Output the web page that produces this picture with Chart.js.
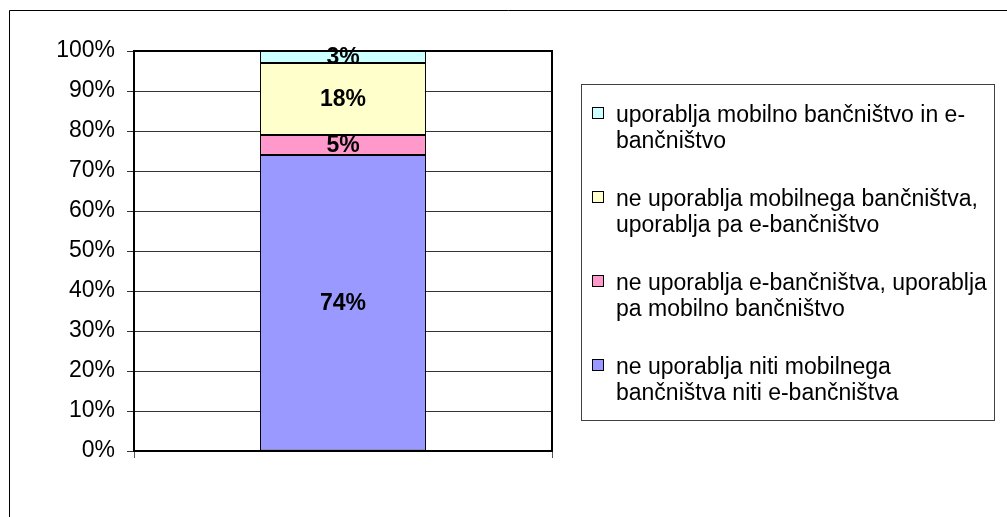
<!DOCTYPE html>
<html>
<head>
<meta charset="utf-8">
<script src="https://cdn.jsdelivr.net/npm/chart.js@4.4.1/dist/chart.umd.min.js"></script>
<style>
  html, body { margin: 0; padding: 0; background: #fff; }
  #c { display: block; }
</style>
</head>
<body>
<canvas id="c" width="1007" height="517"></canvas>
<script>
// ---- data ----
const categories = [''];
const seriesLabels = [
  ['ne uporablja niti mobilnega', 'bančništva niti e-bančništva'],
  ['ne uporablja e-bančništva, uporablja', 'pa mobilno bančništvo'],
  ['ne uporablja mobilnega bančništva,', 'uporablja pa e-bančništvo'],
  ['uporablja mobilno bančništvo in e-', 'bančništvo']
];
const noNeither = [74];
const eOnlyNo = [5];
const mobileNoE = [18];
const both = [3];
const seriesValues = [noNeither, eOnlyNo, mobileNoE, both];
const seriesColors = ['#9999FF', '#FF99CC', '#FFFFCC', '#CCFFFF'];
const yTicks = [0, 10, 20, 30, 40, 50, 60, 70, 80, 90, 100];

const FONT = 'Arial, "Liberation Sans", sans-serif';

const framePlugin = {
  id: 'frame',
  beforeDraw(chart) {
    const ctx = chart.ctx;
    ctx.save();
    ctx.fillStyle = '#fff';
    ctx.fillRect(0, 0, chart.width, chart.height);
    ctx.strokeStyle = '#000';
    ctx.lineWidth = 1;
    ctx.beginPath();
    ctx.moveTo(9.5, chart.height + 2);
    ctx.lineTo(9.5, 10.5);
    ctx.lineTo(chart.width + 2, 10.5);
    ctx.stroke();
    ctx.restore();
  },
  afterDatasetsDraw(chart) {
    const ctx = chart.ctx;
    const a = chart.chartArea;
    ctx.save();
    ctx.strokeStyle = '#000';
    ctx.lineWidth = 2;
    ctx.strokeRect(a.left, a.top, a.right - a.left, a.bottom - a.top);
    // data labels
    ctx.fillStyle = '#000';
    ctx.font = 'bold 23px ' + FONT;
    ctx.textAlign = 'center';
    ctx.textBaseline = 'middle';
    chart.data.datasets.forEach((ds, i) => {
      const meta = chart.getDatasetMeta(i);
      meta.data.forEach((el, j) => {
        const v = ds.data[j];
        const yc = (el.y + el.base) / 2;
        ctx.fillText(v + '%', el.x, yc + 1);
      });
    });
    ctx.restore();
  },
  afterDraw(chart) {
    // legend box
    const ctx = chart.ctx;
    ctx.save();
    ctx.strokeStyle = '#404040';
    ctx.lineWidth = 1;
    ctx.strokeRect(581.5, 84.5, 413, 336);
    ctx.font = '23px ' + FONT;
    ctx.textAlign = 'left';
    ctx.textBaseline = 'alphabetic';
    const n = chart.data.datasets.length;
    for (let k = 0; k < n; k++) {
      const i = n - 1 - k;
      const ds = chart.data.datasets[i];
      const base = 122 + k * 84;
      ctx.fillStyle = ds.backgroundColor;
      ctx.fillRect(592.5, base - 14.5, 11, 11);
      ctx.strokeStyle = '#000';
      ctx.strokeRect(592.5, base - 14.5, 11, 11);
      ctx.fillStyle = '#000';
      ds.label.forEach((line, li) => {
        ctx.fillText(line, 616, base + li * 26);
      });
    }
    ctx.restore();
  }
};

new Chart(document.getElementById('c'), {
  type: 'bar',
  data: {
    labels: categories,
    datasets: seriesValues.map((vals, i) => ({
      label: seriesLabels[i],
      data: vals,
      backgroundColor: seriesColors[i],
      borderColor: '#000',
      borderWidth: 1,
      borderSkipped: false,
      barPercentage: 0.397,
      categoryPercentage: 1
    }))
  },
  options: {
    responsive: false,
    devicePixelRatio: 1,
    animation: false,
    events: [],
    layout: { padding: { left: 0, top: 51, right: 455, bottom: 0 } },
    plugins: {
      legend: { display: false },
      tooltip: { enabled: false },
      title: { display: false }
    },
    scales: {
      x: {
        stacked: true,
        offset: true,
        grid: { display: true, offset: true, drawOnChartArea: false, drawTicks: true, tickLength: 7, color: '#555', lineWidth: 1 },
        border: { display: false },
        ticks: { display: false },
        afterFit(scale) { scale.height = 66; }
      },
      y: {
        stacked: true,
        min: 0,
        max: 100,
        afterBuildTicks(scale) { scale.ticks = yTicks.map(v => ({ value: v })); },
        ticks: {
          callback: v => v + '%',
          color: '#000',
          font: { family: FONT, size: 23 },
          padding: 12
        },
        grid: { color: '#333', lineWidth: 1, tickLength: 7, drawTicks: true },
        border: { display: false },
        afterFit(scale) { scale.width = 134; }
      }
    }
  },
  plugins: [framePlugin]
});
</script>
</body>
</html>
